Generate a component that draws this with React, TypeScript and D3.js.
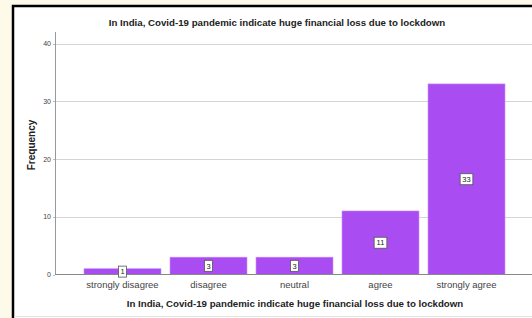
import React from 'react';
import * as d3 from 'd3';

// data
const categories = ['strongly disagree', 'disagree', 'neutral', 'agree', 'strongly agree'];
const counts = [1, 3, 3, 11, 33];
const yTicks = [0, 10, 20, 30, 40];

const title = 'In India, Covid-19 pandemic indicate huge financial loss due to lockdown';

export default function App() {
  const W = 532, H = 318;

  const x = d3.scaleBand<string>()
    .domain(categories)
    .range([79.5, 509.5])
    .paddingInner(0.105)
    .paddingOuter(0.0525);

  const y = d3.scaleLinear().domain([0, 40]).range([274.5, 43.5]);

  const font = 'Arial, "Liberation Sans", sans-serif';

  return (
    <div style={{ position: 'fixed', left: 0, top: 0, width: W, height: H, background: '#fefae9' }}>
      <svg width={W} height={H} style={{ display: 'block' }} fontFamily={font}>
        <rect x={0} y={0} width={W} height={H} fill="#fefae9" />
        {/* frame */}
        <rect x={13} y={6} width={W} height={H} fill="#fff" stroke="#000" strokeWidth={2.5} />
        <line x1={14} x2={W} y1={316.5} y2={316.5} stroke="#e4e4e4" />

        <text x={277} y={26} textAnchor="middle" fontSize={9.7} fontWeight="bold" fill="#222">{title}</text>

        {/* grid */}
        {yTicks.filter(t => t > 0).map(t => (
          <line key={t} x1={55} x2={W} y1={Math.round(y(t)) + 0.5} y2={Math.round(y(t)) + 0.5} stroke="#d4d4d4" strokeWidth={1} />
        ))}

        {/* bars */}
        {categories.map((c, i) => (
          <rect key={c} x={x(c)} y={y(counts[i])} width={x.bandwidth()} height={y(0) - y(counts[i])}
            fill="#a94cf2" stroke="#c48cf7" strokeWidth={0.6} />
        ))}

        {/* axes */}
        <line x1={55.5} x2={55.5} y1={32} y2={274.5} stroke="#999" />
        <line x1={55} x2={W} y1={274.5} y2={274.5} stroke="#888" />
        {yTicks.map(t => (
          <g key={t}>
            <line x1={53} x2={55} y1={Math.round(y(t)) + 0.5} y2={Math.round(y(t)) + 0.5} stroke="#bbb" />
            <text x={51} y={y(t) + 2.5} textAnchor="end" fontSize={7} fill="#444">{t}</text>
          </g>
        ))}

        {/* value labels */}
        {categories.map((c, i) => {
          const cx = (x(c) as number) + x.bandwidth() / 2;
          const cy = (y(counts[i]) + y(0)) / 2;
          const s = String(counts[i]);
          const w = s.length * 4.6 + 3.5;
          return (
            <g key={c}>
              <rect x={cx - w / 2} y={cy - 5.5} width={w} height={11} fill="#fff" stroke="#555" strokeWidth={0.8} />
              <text x={cx} y={cy + 2.7} textAnchor="middle" fontSize={7.5} fill="#222">{s}</text>
            </g>
          );
        })}

        {/* category labels */}
        {categories.map(c => (
          <text key={c} x={(x(c) as number) + x.bandwidth() / 2} y={288} textAnchor="middle" fontSize={9.5} fill="#444">{c}</text>
        ))}

        <text x={295} y={307} textAnchor="middle" fontSize={9.7} fontWeight="bold" fill="#222">{title}</text>
        <text transform="translate(35,145) rotate(-90)" textAnchor="middle" fontSize={10} fontWeight="bold" fill="#222">Frequency</text>
      </svg>
    </div>
  );
}
